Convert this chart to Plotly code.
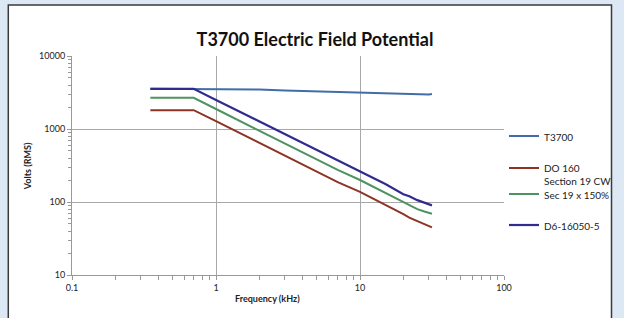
import plotly.graph_objects as go

# ---- data ----
freq_t3700 = [0.35, 0.7, 1, 1.5, 2, 3, 5, 7, 10, 15, 20, 25, 27, 28, 29, 30, 31.6]
volts_t3700 = [3560, 3560, 3560, 3540, 3480, 3380, 3280, 3200, 3130, 3060, 3020, 3000, 2960, 2940, 2990, 2960, 3020]

freq = [0.35, 0.7, 1, 1.5, 2, 3, 5, 7, 10, 15, 20, 22, 25, 28, 31.6]
volts_do160 = [1810, 1810, 1280, 860, 645, 430, 260, 187, 138, 92, 68, 61, 55, 49, 45]
volts_sec19 = [2670, 2670, 1880, 1260, 950, 635, 385, 275, 200, 134, 99, 90, 80, 74, 69]
volts_d6 = [3550, 3550, 2500, 1680, 1260, 840, 510, 365, 262, 176, 128, 120, 106, 98, 90]

series_names = ["T3700", "DO 160<br>Section 19 CW", "Sec 19 x 150%", "D6-16050-5"]
colors = ["#416DA8", "#8E3424", "#4E9460", "#302C8F"]

title = "T3700 Electric Field Potential"
x_title = "Frequency (kHz)"
y_title = "Volts (RMS)"
x_ticks = [0.1, 1, 10, 100]
x_ticklabels = ["0.1", "1", "10", "100"]
y_ticks = [10, 100, 1000, 10000]
y_ticklabels = ["10", "100", "1000", "10000"]
x_minor = [m * d for d in (0.1, 1, 10) for m in range(2, 10)]
y_minor = [m * d for d in (10, 100, 1000) for m in range(2, 10)]

FONT = "Lato, 'Open Sans', sans-serif"

L, R, T, B = 72, 118, 56, 43
W, H = 624, 318
pw, ph = W - L - R, H - T - B

def px_x(p):
    return (p - L) / pw

def px_y(p):
    return (H - B - p) / ph

# legend first-line y positions (px)
legend_y = [136, 168, 194, 225]
legend_keys = ["legend", "legend2", "legend3", "legend4"]

fig = go.Figure()
data = [(freq_t3700, volts_t3700, 2), (freq, volts_do160, 2), (freq, volts_sec19, 2), (freq, volts_d6, 2.2)]
for i, (xs, ys, w) in enumerate(data):
    fig.add_trace(go.Scatter(x=xs, y=ys, mode="lines", name=series_names[i],
                             line=dict(color=colors[i], width=w), legend=legend_keys[i]))

fig.add_shape(type="rect", xref="paper", yref="paper", layer="below",
              x0=px_x(8), x1=px_x(614), y0=px_y(330), y1=px_y(5),
              fillcolor="white", line=dict(color="#3A3A3A", width=1.5))

legend_common = dict(xref="container", yref="container", xanchor="left", yanchor="top",
                     font=dict(size=10, color="#222"), valign="top", itemwidth=30,
                     bgcolor="rgba(0,0,0,0)", borderwidth=0)
legends = {}
for k, yy in zip(legend_keys, legend_y):
    legends[k] = dict(x=504 / W, y=1 - (yy - 13) / H, **legend_common)

fig.update_layout(
    width=W, height=H,
    margin=dict(l=L, r=R, t=T, b=B),
    paper_bgcolor="#DDE8F5",
    plot_bgcolor="rgba(0,0,0,0)",
    font=dict(family=FONT, size=10, color="#222"),
    title=dict(text="<b>" + title + "</b>", x=315 / W, xanchor="center",
               y=1 - 40 / H, yanchor="middle", font=dict(size=18, color="#111")),
    showlegend=True,
    annotations=[
        dict(text="<b>" + x_title + "</b>", xref="paper", yref="paper",
             x=px_x(268), y=px_y(298), showarrow=False, font=dict(size=9, color="#222"),
             xanchor="center", yanchor="middle"),
        dict(text="<b>" + y_title + "</b>", xref="paper", yref="paper",
             x=px_x(27), y=px_y(166), showarrow=False, textangle=-90,
             font=dict(size=9, color="#222"), xanchor="center", yanchor="middle"),
    ],
    **legends,
)

fig.update_xaxes(type="log", range=[-1, 2], tickvals=x_ticks, ticktext=x_ticklabels,
                 showgrid=True, gridcolor="#A8A8A8", gridwidth=1,
                 showline=True, linecolor="#999", ticks="outside", ticklen=4,
                 tickcolor="#999", tickfont=dict(size=9),
                 minor=dict(tickmode="array", tickvals=x_minor, ticks="outside", ticklen=4,
                            tickcolor="#999", showgrid=False),
                 zeroline=False, automargin=False)
fig.update_yaxes(type="log", range=[1, 4], tickvals=y_ticks, ticktext=y_ticklabels,
                 showgrid=True, gridcolor="#A8A8A8", gridwidth=1,
                 showline=True, linecolor="#999", ticks="outside", ticklen=4,
                 tickcolor="#999", tickfont=dict(size=9),
                 minor=dict(tickmode="array", tickvals=y_minor, ticks="outside", ticklen=3,
                            tickcolor="#999", showgrid=False),
                 zeroline=False, automargin=False)

fig.write_html("out.html", config={"displayModeBar": False},
               post_script="document.body.style.margin='0';document.body.style.padding='0';")
